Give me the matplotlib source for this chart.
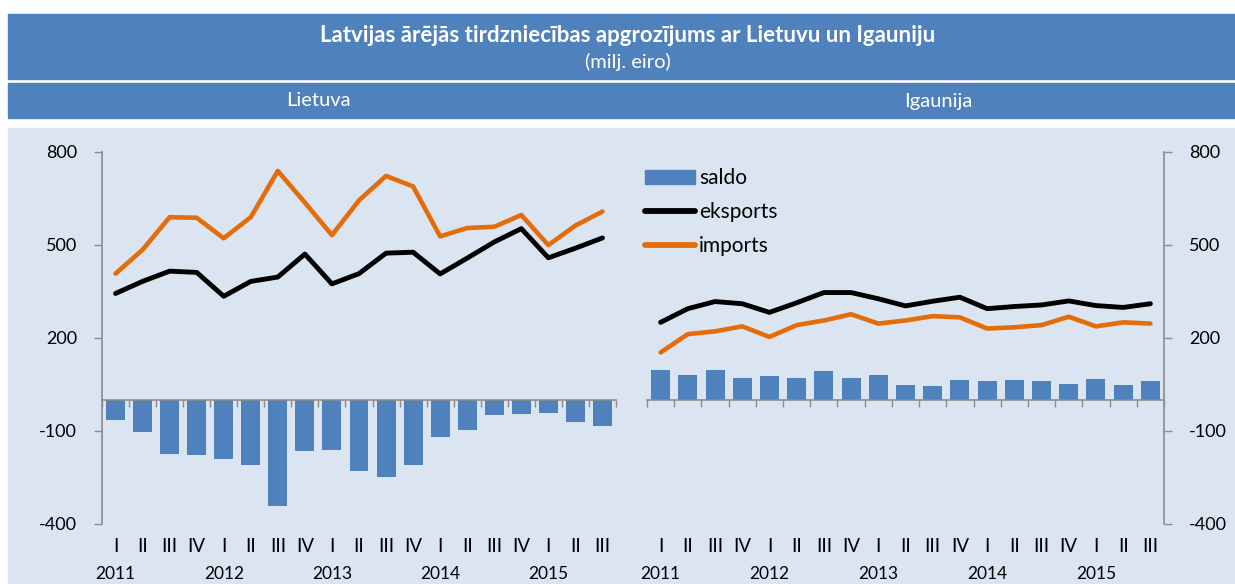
import matplotlib
matplotlib.use("Agg")
import matplotlib.pyplot as plt
from matplotlib.patches import Rectangle
from matplotlib.lines import Line2D
from matplotlib.patches import Patch

plt.rcParams["axes.unicode_minus"] = False

quarters = ["I", "II", "III", "IV"] * 4 + ["I", "II", "III"]
years = ["2011", "2012", "2013", "2014", "2015"]

lt_export = [343, 382, 415, 411, 334, 382, 396, 470, 374, 407, 473, 476, 406, 457, 509, 552, 458, 489, 522]
lt_import = [407, 484, 589, 587, 521, 589, 738, 636, 531, 643, 722, 688, 527, 554, 558, 596, 499, 562, 607]
lt_saldo = [-64, -102, -174, -177, -189, -210, -341, -166, -160, -228, -250, -210, -120, -96, -49, -44, -41, -72, -83]

ee_export = [250, 294, 317, 310, 282, 313, 346, 346, 326, 303, 318, 331, 294, 301, 306, 319, 304, 298, 310]
ee_import = [153, 212, 221, 237, 203, 241, 256, 276, 246, 256, 270, 266, 230, 234, 241, 268, 237, 250, 246]
ee_saldo = [96, 80, 96, 71, 78, 69, 92, 71, 81, 47, 45, 64, 61, 65, 61, 50, 66, 47, 61]

BLUE = "#4F81BD"
ORANGE = "#E46C0A"
BG = "#DBE5F1"
AXC = "#8C8C8C"
FONT = "Lato"

W, H = 1235, 584
fig = plt.figure(figsize=(W / 100, H / 100), dpi=100)

def fx(px):
    return px / W

def fy(py):
    return 1 - py / H

# background panels
fig.patches.append(Rectangle((fx(8), fy(79)), fx(W - 8), (79 - 14) / H, transform=fig.transFigure, color=BLUE, zorder=-10))
fig.patches.append(Rectangle((fx(8), fy(118)), fx(W - 8), (118 - 83) / H, transform=fig.transFigure, color=BLUE, zorder=-10))
fig.patches.append(Rectangle((fx(8), 0), fx(W - 8), fy(128), transform=fig.transFigure, color=BG, zorder=-10))

fig.text(fx(628), fy(36), "Latvijas ārējās tirdzniecības apgrozījums ar Lietuvu un Igauniju",
         ha="center", va="center", color="white", fontsize=16, fontweight="bold", family=FONT)
fig.text(fx(628), fy(62), "(milj. eiro)", ha="center", va="center", color="white", fontsize=14.5, family=FONT)
fig.text(fx(318), fy(101), "Lietuva", ha="center", va="center", color="white", fontsize=14.5, family=FONT)
fig.text(fx(938), fy(101), "Igaunija", ha="center", va="center", color="white", fontsize=14.5, family=FONT)

bottom = (H - 524) / H
height = (524 - 151.7) / H
axL = fig.add_axes([fx(102), bottom, fx(616 - 102), height])
axR = fig.add_axes([fx(647), bottom, fx(1164 - 647), height])

x = list(range(len(quarters)))

def draw(ax, exp, imp, sal, side):
    ax.set_facecolor("none")
    ax.bar(x, sal, width=0.7, color=BLUE, zorder=2, label="saldo")
    ax.plot(x, exp, color="black", lw=3.5, solid_capstyle="round", zorder=3, label="eksports")
    ax.plot(x, imp, color=ORANGE, lw=3.3, solid_capstyle="round", zorder=3, label="imports")
    ax.set_xlim(-0.5, len(x) - 0.5)
    ax.set_ylim(-400, 800)
    ax.set_yticks([-400, -100, 200, 500, 800])
    for s in ["top", "right", "left", "bottom"]:
        ax.spines[s].set_visible(False)
    ax.spines[side].set_visible(True)
    ax.spines[side].set_color(AXC)
    ax.spines[side].set_linewidth(1.2)
    ax.spines["bottom"].set_visible(True)
    ax.spines["bottom"].set_position(("data", 0))
    ax.spines["bottom"].set_color(AXC)
    ax.spines["bottom"].set_linewidth(1.2)
    if side == "right":
        ax.yaxis.tick_right()
    ax.tick_params(axis="y", colors=AXC, length=6, width=1, labelcolor="black", labelsize=13, pad=12)
    for lab in ax.get_yticklabels():
        lab.set_family(FONT)
    ax.set_xticks([i - 0.5 for i in range(len(x) + 1)])
    ax.set_xticklabels([])
    ax.tick_params(axis="x", colors=AXC, length=5, width=1, direction="out")
    trans = ax.get_xaxis_transform()
    for i, q in enumerate(quarters):
        ax.text(i, -0.06, q, transform=trans, ha="center", va="center", fontsize=13.5, family=FONT)
    for j, yr in enumerate(years):
        ax.text(j * 4, -0.135, yr, transform=trans, ha="center", va="center", fontsize=12.5, family=FONT)

draw(axL, lt_export, lt_import, lt_saldo, "left")
draw(axR, ee_export, ee_import, ee_saldo, "right")

handles = [Patch(color=BLUE), Line2D([], [], color="black", lw=4.2, solid_capstyle="round"),
           Line2D([], [], color=ORANGE, lw=4.2, solid_capstyle="round")]
leg = axR.legend(handles, ["saldo", "eksports", "imports"], loc="upper left",
                 bbox_to_anchor=(-0.004, 0.955), frameon=False, handlelength=2.4, handleheight=0.6,
                 handletextpad=0.2, labelspacing=0.65, borderpad=0, borderaxespad=0,
                 prop={"family": FONT, "size": 15})

fig.savefig("out.png", dpi=100)
